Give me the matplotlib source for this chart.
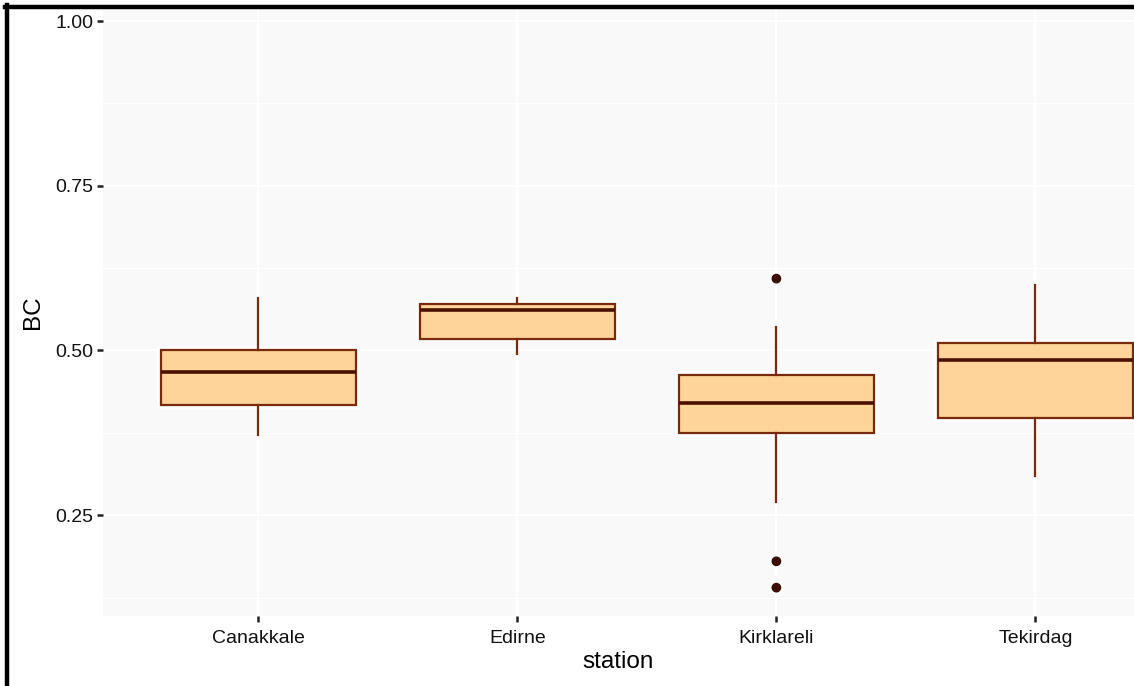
import matplotlib.pyplot as plt
import matplotlib.patheffects as pe
from matplotlib.lines import Line2D

plt.rcParams['font.family'] = ['Liberation Sans', 'DejaVu Sans']

# Box summaries of BC per station
stations = ["Canakkale", "Edirne", "Kirklareli", "Tekirdag"]
whisker_low = [0.371, 0.494, 0.270, 0.310]
q1 = [0.417, 0.518, 0.374, 0.398]
median = [0.468, 0.562, 0.421, 0.485]
q3 = [0.500, 0.570, 0.462, 0.511]
whisker_high = [0.579, 0.579, 0.536, 0.599]
outliers = [[], [], [0.609, 0.180, 0.140], []]

stats = []
for i, name in enumerate(stations):
    stats.append({
        "label": name,
        "whislo": whisker_low[i],
        "q1": q1[i],
        "med": median[i],
        "q3": q3[i],
        "whishi": whisker_high[i],
        "fliers": outliers[i],
    })

fig = plt.figure(figsize=(11.34, 6.86), dpi=100)
ax = fig.add_axes([103 / 1134, 1 - 616 / 686, 1 - 103 / 1134, (616 - 8) / 686])
ax.set_facecolor("#f9f9f9")

edge = "#7a2a0c"
halo = [pe.Stroke(linewidth=6, foreground="white", alpha=0.7), pe.Normal()]

bp = ax.bxp(stats, positions=[1, 2, 3, 4], widths=0.75, patch_artist=True,
            showcaps=False, zorder=3,
            boxprops=dict(facecolor="#fed49a", edgecolor=edge, linewidth=1.6),
            whiskerprops=dict(color=edge, linewidth=1.6),
            medianprops=dict(color="#4a1000", linewidth=2.6),
            flierprops=dict(marker="o", markersize=6, markerfacecolor="#3a0d00",
                            markeredgecolor="#3a0d00"))
# soft white glow around boxes and outlier dots
for artist in bp["boxes"] + bp["fliers"]:
    artist.set_path_effects(halo)
# whiskers drawn on top so the glow doesn't cut them at the box edge
for w in bp["whiskers"]:
    w.set_zorder(3.5)

ax.set_xlim(0.4, 0.4 + (1134 - 103) / 259)
ax.set_ylim(0.097, 1.0 + (21 - 8) / 658.8)

ax.set_yticks([0.25, 0.50, 0.75, 1.00])
ax.set_yticklabels(["0.25", "0.50", "0.75", "1.00"])
ax.set_yticks([0.125, 0.375, 0.625, 0.875], minor=True)
ax.set_xticks([1, 2, 3, 4])
ax.set_xticklabels(stations)

ax.grid(True, which="major", color="white", linewidth=1.5, zorder=0)
ax.grid(True, which="minor", axis="y", color="white", linewidth=0.8, zorder=0)
ax.set_axisbelow(True)
for s in ax.spines.values():
    s.set_visible(False)

ax.tick_params(axis="both", which="major", length=4, width=1.8, color="#222222",
               labelsize=14, labelcolor="#111111")
ax.tick_params(axis="x", pad=6)
ax.tick_params(axis="y", pad=3)
ax.tick_params(axis="y", which="minor", length=0)

ax.set_xlabel("station", fontsize=17.5, labelpad=3)
ax.set_ylabel("BC", fontsize=17.5, labelpad=8)

# frame lines on the left and top of the figure
fig.add_artist(Line2D([6.5 / 1134, 6.5 / 1134], [0, 1 - 5 / 686], color="black", linewidth=3.2))
fig.add_artist(Line2D([5 / 1134, 1133 / 1134], [1 - 6.5 / 686, 1 - 6.5 / 686], color="black", linewidth=3.2))

fig.savefig("out.png", dpi=100)
